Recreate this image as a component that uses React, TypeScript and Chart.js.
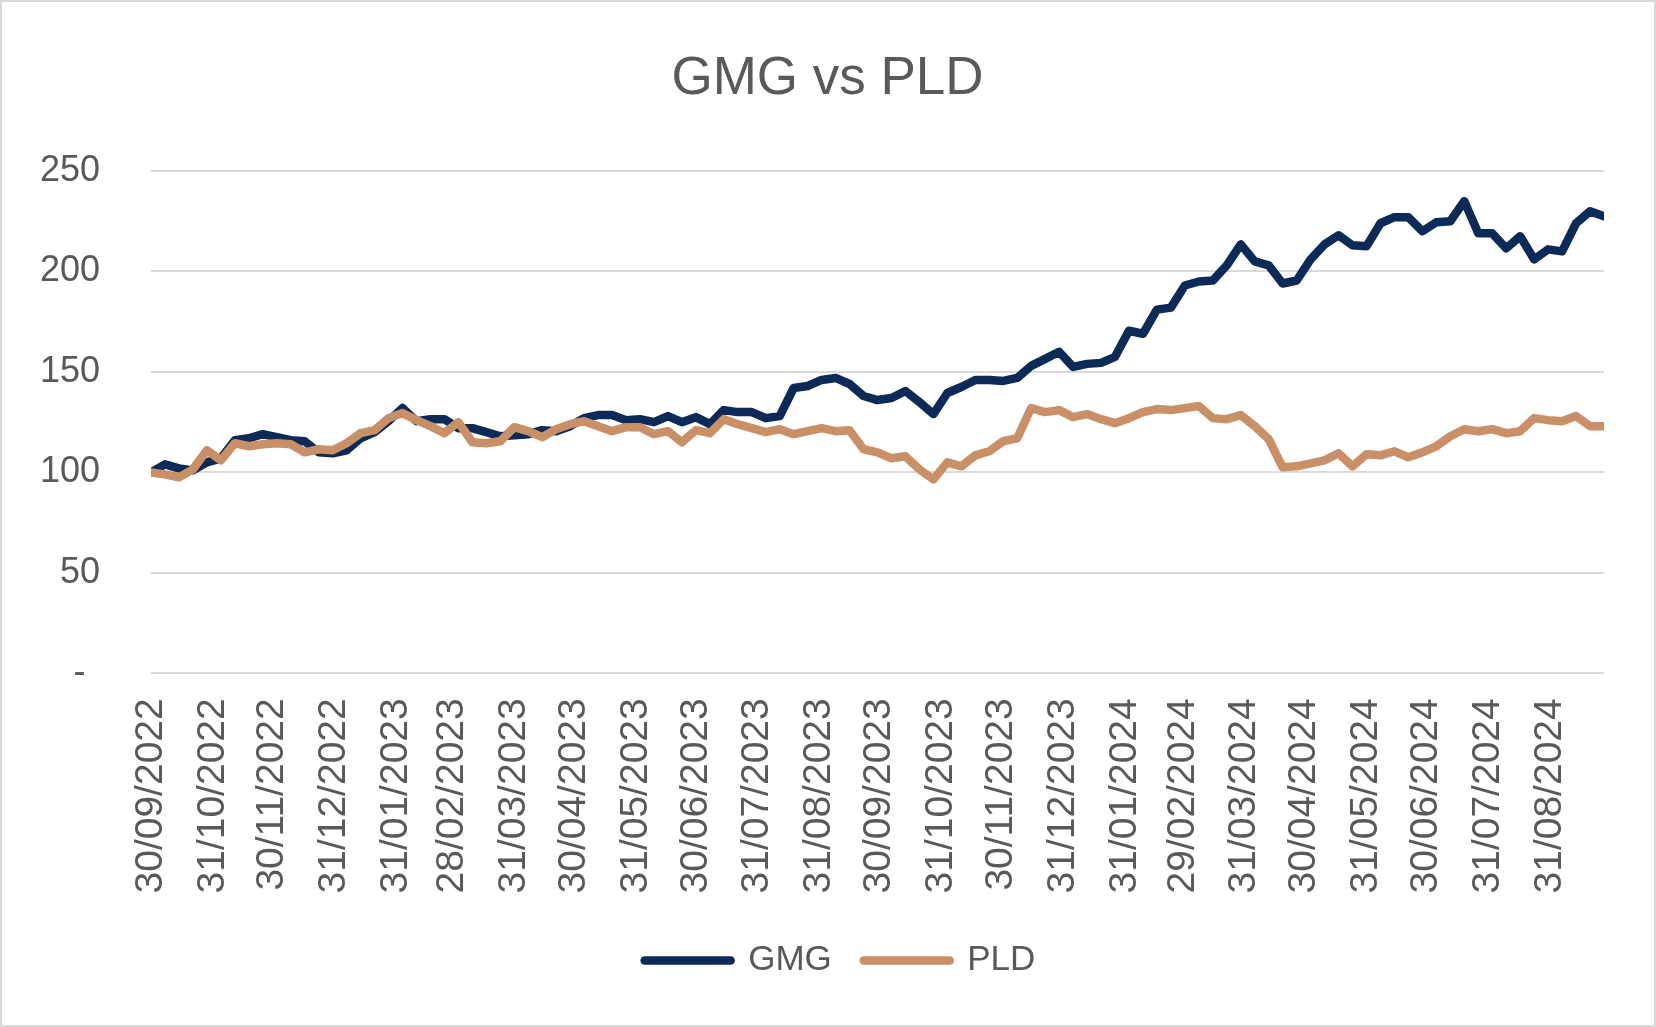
import React, { useEffect, useRef } from 'react';
import { Chart, registerables } from 'chart.js';

Chart.register(...registerables);

const TITLE = 'GMG vs PLD';
const START_DATE = '30/09/2022';
const WEEK_STEP_DAYS = 7;
const X_MAX_DAYS = 728;

const X_TICK_LABELS = [
  '30/09/2022', '31/10/2022', '30/11/2022', '31/12/2022', '31/01/2023', '28/02/2023',
  '31/03/2023', '30/04/2023', '31/05/2023', '30/06/2023', '31/07/2023', '31/08/2023',
  '30/09/2023', '31/10/2023', '30/11/2023', '31/12/2023', '31/01/2024', '29/02/2024',
  '31/03/2024', '30/04/2024', '31/05/2024', '30/06/2024', '31/07/2024', '31/08/2024',
];

const Y_TICKS = [0, 50, 100, 150, 200, 250];

const GMG = [
  100, 104, 102, 101, 105, 107, 116, 117, 119, 117.5,
  116, 115.5, 110, 109.5, 111, 117, 120, 125.5, 132, 125.5,
  126.5, 126.5, 122, 122, 120, 118, 118.5, 119, 121, 120.5,
  123, 127, 128.5, 128.5, 126, 126.5, 125, 128, 125, 127.5,
  124, 131, 130, 130, 127, 128, 142, 143, 146, 147,
  144, 138, 136, 137, 140.5, 135, 129, 139.5, 142.5, 146,
  146, 145.5, 147, 153, 156.5, 160, 152.5, 154, 154.5, 157.5,
  170.5, 169, 181, 182, 193, 195, 195.5, 203, 213.5, 205,
  203, 194, 195.5, 206, 213.5, 218, 213, 212.5, 224, 227,
  227, 220, 224.5, 225, 235, 219, 219, 211.5, 217.5, 206,
  211, 210, 224, 230, 227.5,
];

const PLD = [
  100, 99, 97.5, 101.5, 111, 106, 114.5, 113, 114, 114.5,
  114, 110, 111.5, 111, 114.5, 119.5, 121, 127, 129.5, 126,
  123, 119.5, 125, 115, 114.5, 115.5, 122.5, 120.5, 117.5, 121.5,
  124, 125.5, 123, 120.5, 122.5, 122.5, 119, 120.5, 115, 121,
  119.5, 126.5, 124, 122, 120, 121.5, 119, 120.5, 122, 120.5,
  121, 111.5, 110, 107, 108, 101.5, 96.5, 105, 103, 108.5,
  110.5, 115.5, 117, 132, 130, 131, 127.5, 129, 126.5, 124.5,
  127, 130, 131.5, 131, 132, 133, 127, 126.5, 128.5, 123,
  116.5, 102.5, 103, 104.5, 106, 109.5, 103, 109, 108.5, 110.5,
  107.5, 110, 113, 118, 121.5, 120.5, 121.5, 119.5, 120.5, 127,
  126, 125.5, 128, 123, 123,
];

const GMG_COLOR = '#0b2a57';
const PLD_COLOR = '#c98f66';
const TEXT_COLOR = '#595959';
const GRID_COLOR = '#d9d9d9';

function parseDmy(s: string): number {
  const [d, m, y] = s.split('/').map(Number);
  return Date.UTC(y, m - 1, d);
}

function dayOffset(s: string): number {
  return Math.round((parseDmy(s) - parseDmy(START_DATE)) / 86400000);
}

const tickLabelByOffset = new Map<number, string>(X_TICK_LABELS.map((l) => [dayOffset(l), l]));

const blockShift = {
  id: 'blockShift',
  afterLayout(chart: any) {
    if (chart.legend) {
      chart.legend.left += 37;
      chart.legend.right += 37;
    }
    if (chart.titleBlock) {
      chart.titleBlock.left += 24.5;
      chart.titleBlock.right += 24.5;
    }
  },
};

export default function App() {
  const canvasRef = useRef<HTMLCanvasElement | null>(null);

  useEffect(() => {
    const canvas = canvasRef.current;
    if (!canvas) return;
    const chart = new Chart(canvas, {
      type: 'line',
      data: {
        datasets: [
          {
            label: 'GMG',
            data: GMG.map((v, i) => ({ x: i * WEEK_STEP_DAYS, y: v })),
            borderColor: GMG_COLOR,
            backgroundColor: GMG_COLOR,
            borderWidth: 8.5,
            pointRadius: 0,
            tension: 0,
            borderJoinStyle: 'round',
            borderCapStyle: 'round',
            order: 1,
          },
          {
            label: 'PLD',
            data: PLD.map((v, i) => ({ x: i * WEEK_STEP_DAYS, y: v })),
            borderColor: PLD_COLOR,
            backgroundColor: PLD_COLOR,
            borderWidth: 8.5,
            pointRadius: 0,
            tension: 0,
            borderJoinStyle: 'round',
            borderCapStyle: 'round',
            order: 0,
          },
        ],
      },
      options: {
        animation: false,
        responsive: false,
        layout: { padding: { left: 0, right: 50, top: 0, bottom: 37 } },
        plugins: {
          title: {
            display: true,
            text: TITLE,
            color: TEXT_COLOR,
            font: { family: 'Liberation Sans', size: 53, weight: 'normal' },
            padding: { top: 45.8, bottom: 59.6 },
          },
          legend: {
            position: 'bottom',
            labels: {
              usePointStyle: true,
              pointStyleWidth: 86,
              boxHeight: 35,
              padding: 32,
              color: TEXT_COLOR,
              font: { family: 'Liberation Sans', size: 35 },
              generateLabels: (c: any) =>
                c.data.datasets.map((ds: any, i: number) => ({
                  text: ds.label,
                  fillStyle: ds.borderColor,
                  strokeStyle: ds.borderColor,
                  lineWidth: 8.5,
                  lineCap: 'round',
                  pointStyle: 'line',
                  hidden: false,
                  datasetIndex: i,
                  fontColor: TEXT_COLOR,
                })),
            },
          },
          tooltip: { enabled: false },
        },
        scales: {
          x: {
            type: 'linear',
            min: 0,
            max: X_MAX_DAYS,
            grid: { display: false },
            border: { display: false },
            afterBuildTicks: (s: any) => {
              s.ticks = X_TICK_LABELS.map((l) => ({ value: dayOffset(l) }));
            },
            afterFit: (s: any) => {
              s.height = 237.7;
            },
            ticks: {
              autoSkip: false,
              minRotation: 90,
              maxRotation: 90,
              padding: 17,
              color: TEXT_COLOR,
              font: { family: 'Liberation Sans', size: 39 },
              callback: (v: any) => tickLabelByOffset.get(Number(v)) ?? '',
            },
          },
          y: {
            min: 0,
            max: 250,
            afterBuildTicks: (s: any) => {
              s.ticks = Y_TICKS.map((v) => ({ value: v }));
            },
            afterFit: (s: any) => {
              s.width = 149;
            },
            grid: { color: GRID_COLOR, lineWidth: 2, drawTicks: false },
            border: { display: false },
            ticks: {
              padding: 51,
              color: TEXT_COLOR,
              font: { family: 'Liberation Sans', size: 36 },
              callback: (v: any) => (Number(v) === 0 ? '-\u2009\u2009' : String(v)),
            },
          },
        },
      } as any,
      plugins: [blockShift],
    });
    return () => chart.destroy();
  }, []);

  return (
    <div
      style={{
        position: 'fixed',
        left: 0,
        top: 0,
        width: 1656,
        height: 1027,
        boxSizing: 'border-box',
        border: `2px solid ${GRID_COLOR}`,
        background: '#ffffff',
      }}
    >
      <canvas ref={canvasRef} width={1652} height={1023} style={{ display: 'block' }} />
    </div>
  );
}
